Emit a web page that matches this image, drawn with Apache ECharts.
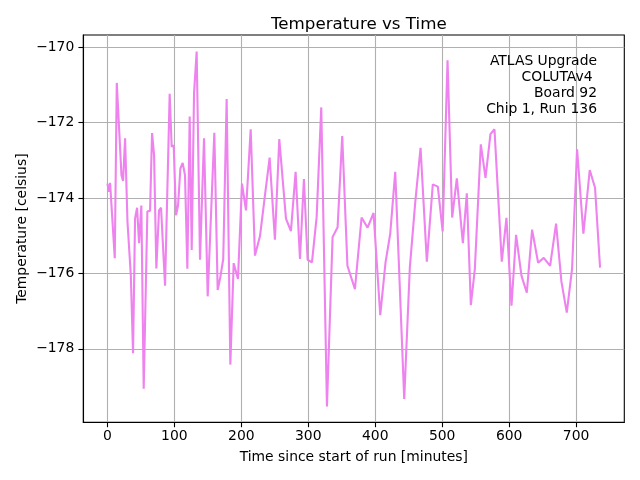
<!DOCTYPE html>
<html>
<head>
<meta charset="utf-8">
<script src="https://cdn.jsdelivr.net/npm/echarts@6/dist/echarts.min.js"></script>
<style>html,body{margin:0;padding:0;background:#fff;}#c{width:640px;height:480px;}</style>
</head>
<body>
<div id="c"></div>
<script>
var times = [0,2.5,4,6,11,14,21,23.4,26.4,30,35,38.3,41.3,44.3,47.3,50.7,54.2,59.7,63.7,66.7,69.7,73.1,77.1,80.1,86.1,93,96,99,102.5,105.5,109,112.4,115.9,119.4,122.9,125.9,129.4,133.3,138.3,144.3,149.8,159.7,164.7,168.7,173,178.1,183.6,188.6,195,201,207,214,220.4,227.9,235.3,242.3,250.2,256.7,266.7,274.1,281.1,287.6,293.5,299,305.5,312.5,319.4,327.9,336.3,343.8,350.7,358.5,369.7,379.6,388.6,397.5,407.5,415.4,422.4,429.9,443.3,451.7,459.7,467.7,477.1,486,493.5,500.7,508,514.9,521.9,530.9,536.8,542.8,548.8,557.7,564.7,572.1,578.1,589,596,603.5,610.4,618.4,626.4,634.3,643.3,651.7,661.2,670.1,678.1,686.1,694,701.5,710.9,720.4,728.3,735.8];
var temps = [-173.62,-173.84,-173.6,-173.57,-175.6,-170.95,-173.4,-173.55,-172.42,-174.64,-176.06,-178.12,-174.55,-174.26,-175.2,-174.2,-179.06,-174.36,-174.34,-172.28,-172.86,-175.87,-174.33,-174.26,-176.33,-171.24,-172.64,-172.61,-174.46,-174.2,-173.22,-173.07,-173.4,-175.88,-171.84,-175.38,-171.22,-170.12,-175.64,-172.42,-176.61,-172.27,-176.44,-176.1,-175.62,-171.38,-178.42,-175.73,-176.15,-173.62,-174.33,-172.18,-175.53,-175.01,-173.93,-172.93,-175.11,-172.44,-174.55,-174.88,-173.31,-175.62,-173.5,-175.64,-175.71,-174.51,-171.6,-179.53,-175.04,-174.78,-172.36,-175.8,-176.42,-174.52,-174.79,-174.4,-177.11,-175.71,-174.95,-173.31,-179.33,-175.84,-174.13,-172.67,-175.69,-173.64,-173.7,-174.89,-170.35,-174.52,-173.48,-175.2,-173.88,-176.84,-175.88,-172.58,-173.47,-172.31,-172.18,-175.69,-174.53,-176.86,-174.98,-176.06,-176.51,-174.84,-175.72,-175.59,-175.8,-174.68,-176.22,-177.04,-175.88,-172.71,-174.95,-173.26,-173.73,-175.85];
var titleText = 'Temperature vs Time';
var xName = 'Time since start of run [minutes]';
var yName = 'Temperature [celsius]';
var noteLines = ['ATLAS Upgrade', 'COLUTAv4 ', 'Board 92', 'Chip 1, Run 136'];
var xTicks = [0,100,200,300,400,500,600,700];
var yTicks = [-178,-176,-174,-172,-170];

var data = times.map(function(t, i){ return [t, temps[i]]; });
var FONT = 'DejaVu Sans';
var chart = echarts.init(document.getElementById('c'), null, {renderer:'canvas'});
chart.setOption({
  animation: false,
  backgroundColor: '#fff',
  title: {
    text: titleText, left: 353.8, top: 11, textAlign: 'center',
    textStyle: {fontFamily: FONT, fontSize: 16.7, fontWeight: 'normal', color: '#000'}
  },
  grid: {left: 83.3, right: 15.7, top: 35, bottom: 57.7, show: true, borderColor: '#000', borderWidth: 1.1, backgroundColor: 'transparent'},
  xAxis: {
    type: 'value', min: -36, max: 772, interval: 100,
    name: xName, nameLocation: 'middle', nameGap: 28, nameMoveOverlap: false,
    nameTextStyle: {fontFamily: FONT, fontSize: 13.9, color: '#000'},
    axisLine: {show: true, onZero: false, lineStyle: {color: '#000', width: 1.1}},
    axisTick: {show: true, length: 4.9, lineStyle: {color: '#000', width: 1.1},
      customValues: xTicks},
    axisLabel: {fontFamily: FONT, fontSize: 13.9, color: '#000', margin: 7, customValues: xTicks,
      formatter: function(v){ return xTicks.indexOf(v) >= 0 ? String(v) : ''; }},
    splitLine: {show: true, lineStyle: {color: '#b0b0b0', width: 1.1}}
  },
  yAxis: {
    type: 'value', min: -179.95, max: -169.68, interval: 2,
    name: yName, nameLocation: 'middle', nameGap: 54, nameMoveOverlap: false,
    nameTextStyle: {fontFamily: FONT, fontSize: 13.9, color: '#000'},
    axisLine: {show: true, onZero: false, lineStyle: {color: '#000', width: 1.1}},
    axisTick: {show: true, length: 4.9, lineStyle: {color: '#000', width: 1.1},
      customValues: yTicks},
    axisLabel: {fontFamily: FONT, fontSize: 13.9, color: '#000', margin: 9, customValues: yTicks,
      formatter: function(v){ return yTicks.indexOf(v) >= 0 ? '\u2212' + Math.abs(v) : ''; }},
    splitLine: {show: true, lineStyle: {color: '#b0b0b0', width: 1.1}}
  },
  graphic: [{
    type: 'text', right: 43, top: 53, z: 10,
    style: {text: noteLines.join('\n'), fontFamily: FONT, fontSize: 13.9, lineHeight: 16,
      fill: '#000', textAlign: 'right'}
  }],
  series: [{
    type: 'line', data: data, showSymbol: false, symbol: 'none',
    lineStyle: {color: '#ee82ee', width: 2.1}, itemStyle: {color: '#ee82ee'}
  }]
});
</script>
</body>
</html>
